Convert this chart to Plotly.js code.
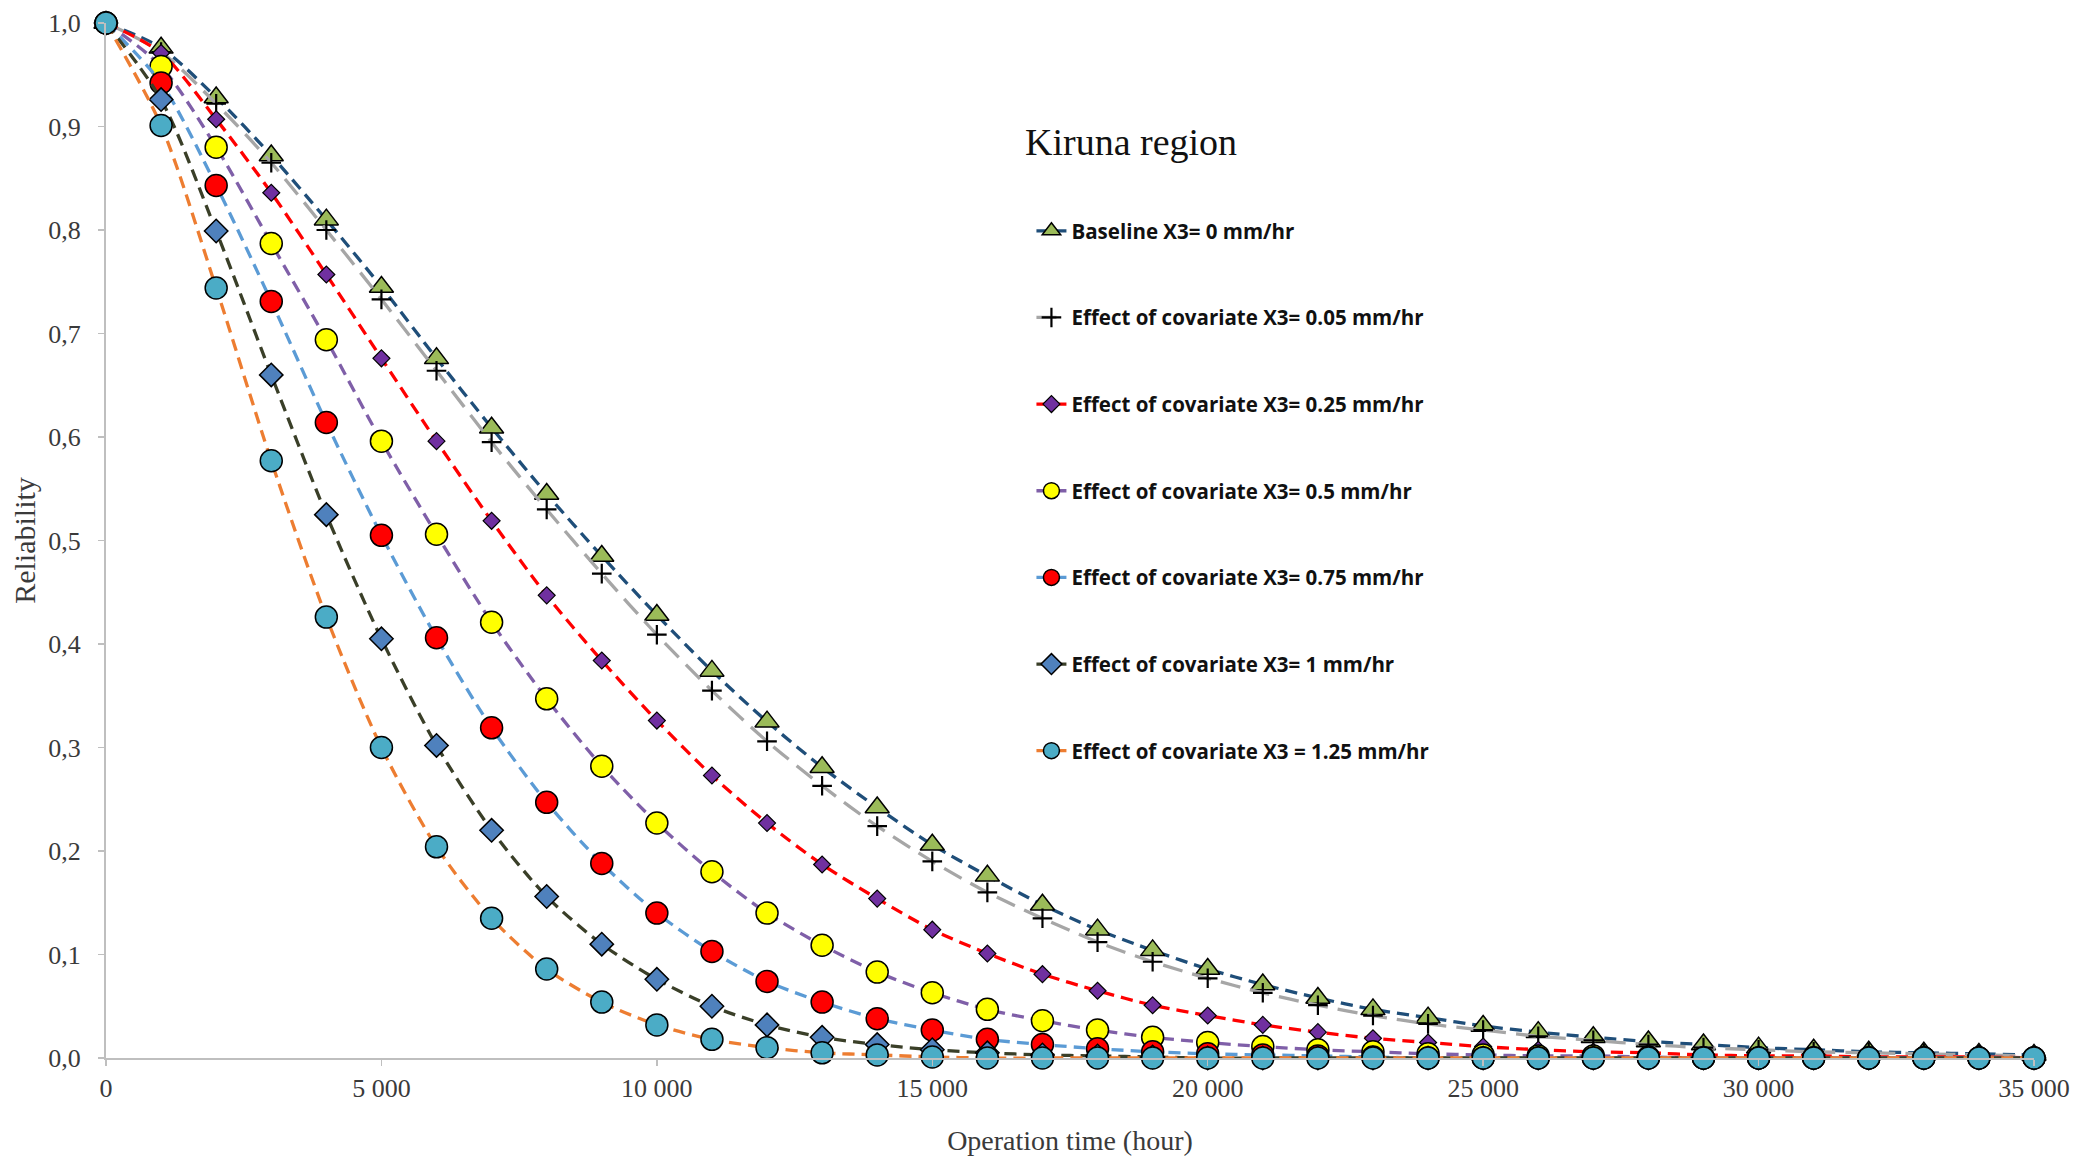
<!DOCTYPE html>
<html>
<head>
<meta charset="utf-8">
<script src="https://cdn.plot.ly/plotly-3.0.1.min.js"></script>
<style>html,body{margin:0;padding:0;background:#fff;}#chart{width:2080px;height:1167px;}</style>
</head>
<body>
<div id="chart"></div>
<script>
const hours = [0,1000,2000,3000,4000,5000,6000,7000,8000,9000,10000,11000,12000,13000,14000,15000,16000,17000,18000,19000,20000,21000,22000,23000,24000,25000,26000,27000,28000,29000,30000,31000,32000,33000,34000,35000];

const seriesNames = [
  "Baseline X3= 0 mm/hr",
  "Effect of covariate X3= 0.05 mm/hr",
  "Effect of covariate X3= 0.25 mm/hr",
  "Effect of covariate X3= 0.5 mm/hr",
  "Effect of covariate X3= 0.75 mm/hr",
  "Effect of covariate X3= 1 mm/hr",
  "Effect of covariate X3 = 1.25 mm/hr"
];

const chartTitle = "Kiruna region";

const baseline = [1.0,0.976,0.928,0.872,0.81,0.745,0.676,0.609,0.545,0.485,0.428,0.374,0.325,0.281,0.242,0.206,0.176,0.148,0.124,0.104,0.086,0.071,0.058,0.047,0.039,0.031,0.025,0.02,0.016,0.013,0.01,0.008,0.006,0.005,0.004,0.003];
const x005 = [1.0,0.972,0.922,0.865,0.8,0.733,0.664,0.595,0.53,0.468,0.409,0.355,0.306,0.263,0.224,0.19,0.16,0.135,0.112,0.093,0.077,0.063,0.051,0.041,0.033,0.027,0.021,0.017,0.013,0.01,0.008,0.006,0.005,0.004,0.003,0.002];
const x025 = [1.0,0.971,0.907,0.836,0.757,0.676,0.596,0.519,0.447,0.384,0.326,0.273,0.227,0.187,0.154,0.124,0.101,0.081,0.065,0.051,0.041,0.032,0.025,0.019,0.015,0.011,0.008,0.006,0.005,0.003,0.002,0.002,0.001,0.001,0.001,0.0];
const x050 = [1.0,0.958,0.88,0.787,0.694,0.596,0.506,0.421,0.347,0.282,0.227,0.18,0.14,0.109,0.083,0.063,0.047,0.036,0.027,0.02,0.015,0.011,0.008,0.006,0.004,0.003,0.002,0.002,0.001,0.0,0.0,0.0,0.0,0.0,0.0,0.0];
const x075 = [1.0,0.942,0.843,0.731,0.614,0.505,0.406,0.319,0.247,0.188,0.14,0.103,0.074,0.054,0.038,0.027,0.018,0.013,0.009,0.006,0.004,0.003,0.002,0.001,0.0,0.0,0.0,0.0,0.0,0.0,0.0,0.0,0.0,0.0,0.0,0.0];
const x100 = [1.0,0.926,0.799,0.66,0.525,0.405,0.302,0.22,0.156,0.11,0.076,0.05,0.032,0.02,0.013,0.008,0.005,0.003,0.002,0.001,0.0,0.0,0.0,0.0,0.0,0.0,0.0,0.0,0.0,0.0,0.0,0.0,0.0,0.0,0.0,0.0];
const x125 = [1.0,0.901,0.744,0.577,0.426,0.3,0.204,0.135,0.086,0.054,0.032,0.018,0.01,0.005,0.003,0.001,0.0,0.0,0.0,0.0,0.0,0.0,0.0,0.0,0.0,0.0,0.0,0.0,0.0,0.0,0.0,0.0,0.0,0.0,0.0,0.0];

const values = [baseline, x005, x025, x050, x075, x100, x125];

const styles = [
  {line:{color:'#1f4e79', dash:'12px,7px'}, marker:{symbol:'triangle-up', size:21, color:'#9bbb59', line:{color:'#000', width:1.5}}},
  {line:{color:'#a6a6a6', dash:'20px,10px'}, marker:{symbol:'cross-thin', size:14, color:'#000', line:{color:'#000', width:2.2}}},
  {line:{color:'#ff0000', dash:'12px,7px'}, marker:{symbol:'diamond', size:13, color:'#7030a0', line:{color:'#000', width:1.2}}},
  {line:{color:'#7f5fa8', dash:'12px,7px'}, marker:{symbol:'circle', size:22, color:'#ffff00', line:{color:'#000', width:1.5}}},
  {line:{color:'#5b9bd5', dash:'12px,7px'}, marker:{symbol:'circle', size:22, color:'#ff0000', line:{color:'#000', width:1.5}}},
  {line:{color:'#3a3f28', dash:'12px,7px'}, marker:{symbol:'diamond', size:18, color:'#4f81bd', line:{color:'#000', width:1.5}}},
  {line:{color:'#ed7d31', dash:'12px,7px'}, marker:{symbol:'circle', size:22, color:'#4bacc6', line:{color:'#000', width:1.5}}}
];

const traces = values.map((v, i) => ({
  type: 'scatter',
  mode: 'lines+markers',
  x: hours,
  y: v,
  name: seriesNames[i],
  legendgroup: 'g' + i,
  cliponaxis: false,
  line: {color: styles[i].line.color, dash: styles[i].line.dash, width: 3.3, shape: 'spline', smoothing: 0.8},
  marker: styles[i].marker
}));

const serif = 'Liberation Serif, Times New Roman, serif';

const layout = {
  width: 2080,
  height: 1167,
  paper_bgcolor: '#fff',
  plot_bgcolor: '#fff',
  separators: ', ',
  margin: {l: 106, r: 46, t: 23, b: 109},
  showlegend: true,
  legend: {
    x: 0.48, y: 0.8184, xanchor: 'left', yanchor: 'top',
    bgcolor: 'rgba(0,0,0,0)',
    font: {family: 'Open Sans, sans-serif', size: 20.5, color: '#111', weight: 'bold'},
    tracegroupgap: 57
  },
  annotations: [{
    text: chartTitle, xref: 'paper', yref: 'paper', x: 0.4756, y: 0.885,
    xanchor: 'left', yanchor: 'middle', showarrow: false,
    font: {family: serif, size: 38, color: '#111'}
  }],
  xaxis: {
    range: [0, 35000],
    tickvals: [0,5000,10000,15000,20000,25000,30000,35000],
    tickformat: ',d',
    showgrid: false, zeroline: false,
    showline: true, linecolor: '#bfbfbf', linewidth: 2,
    ticks: 'outside', ticklen: 6, tickcolor: '#bfbfbf', tickwidth: 1.5,
    tickfont: {family: serif, size: 26, color: '#3a3a3a'},
    title: {text: 'Operation time (hour)', font: {family: serif, size: 28, color: '#3a3a3a'}, standoff: 28}
  },
  yaxis: {
    range: [0, 1],
    dtick: 0.1,
    tickformat: '.1f',
    showgrid: false, zeroline: false,
    showline: true, linecolor: '#bfbfbf', linewidth: 2,
    ticks: 'outside', ticklen: 6, tickcolor: '#bfbfbf', tickwidth: 1.5,
    ticklabelstandoff: 12,
    tickfont: {family: serif, size: 26, color: '#3a3a3a'},
    title: {text: 'Reliability', font: {family: serif, size: 30, color: '#3a3a3a'}, standoff: 4}
  }
};

Plotly.newPlot('chart', traces, layout, {displayModeBar: false, staticPlot: true});
</script>
</body>
</html>
